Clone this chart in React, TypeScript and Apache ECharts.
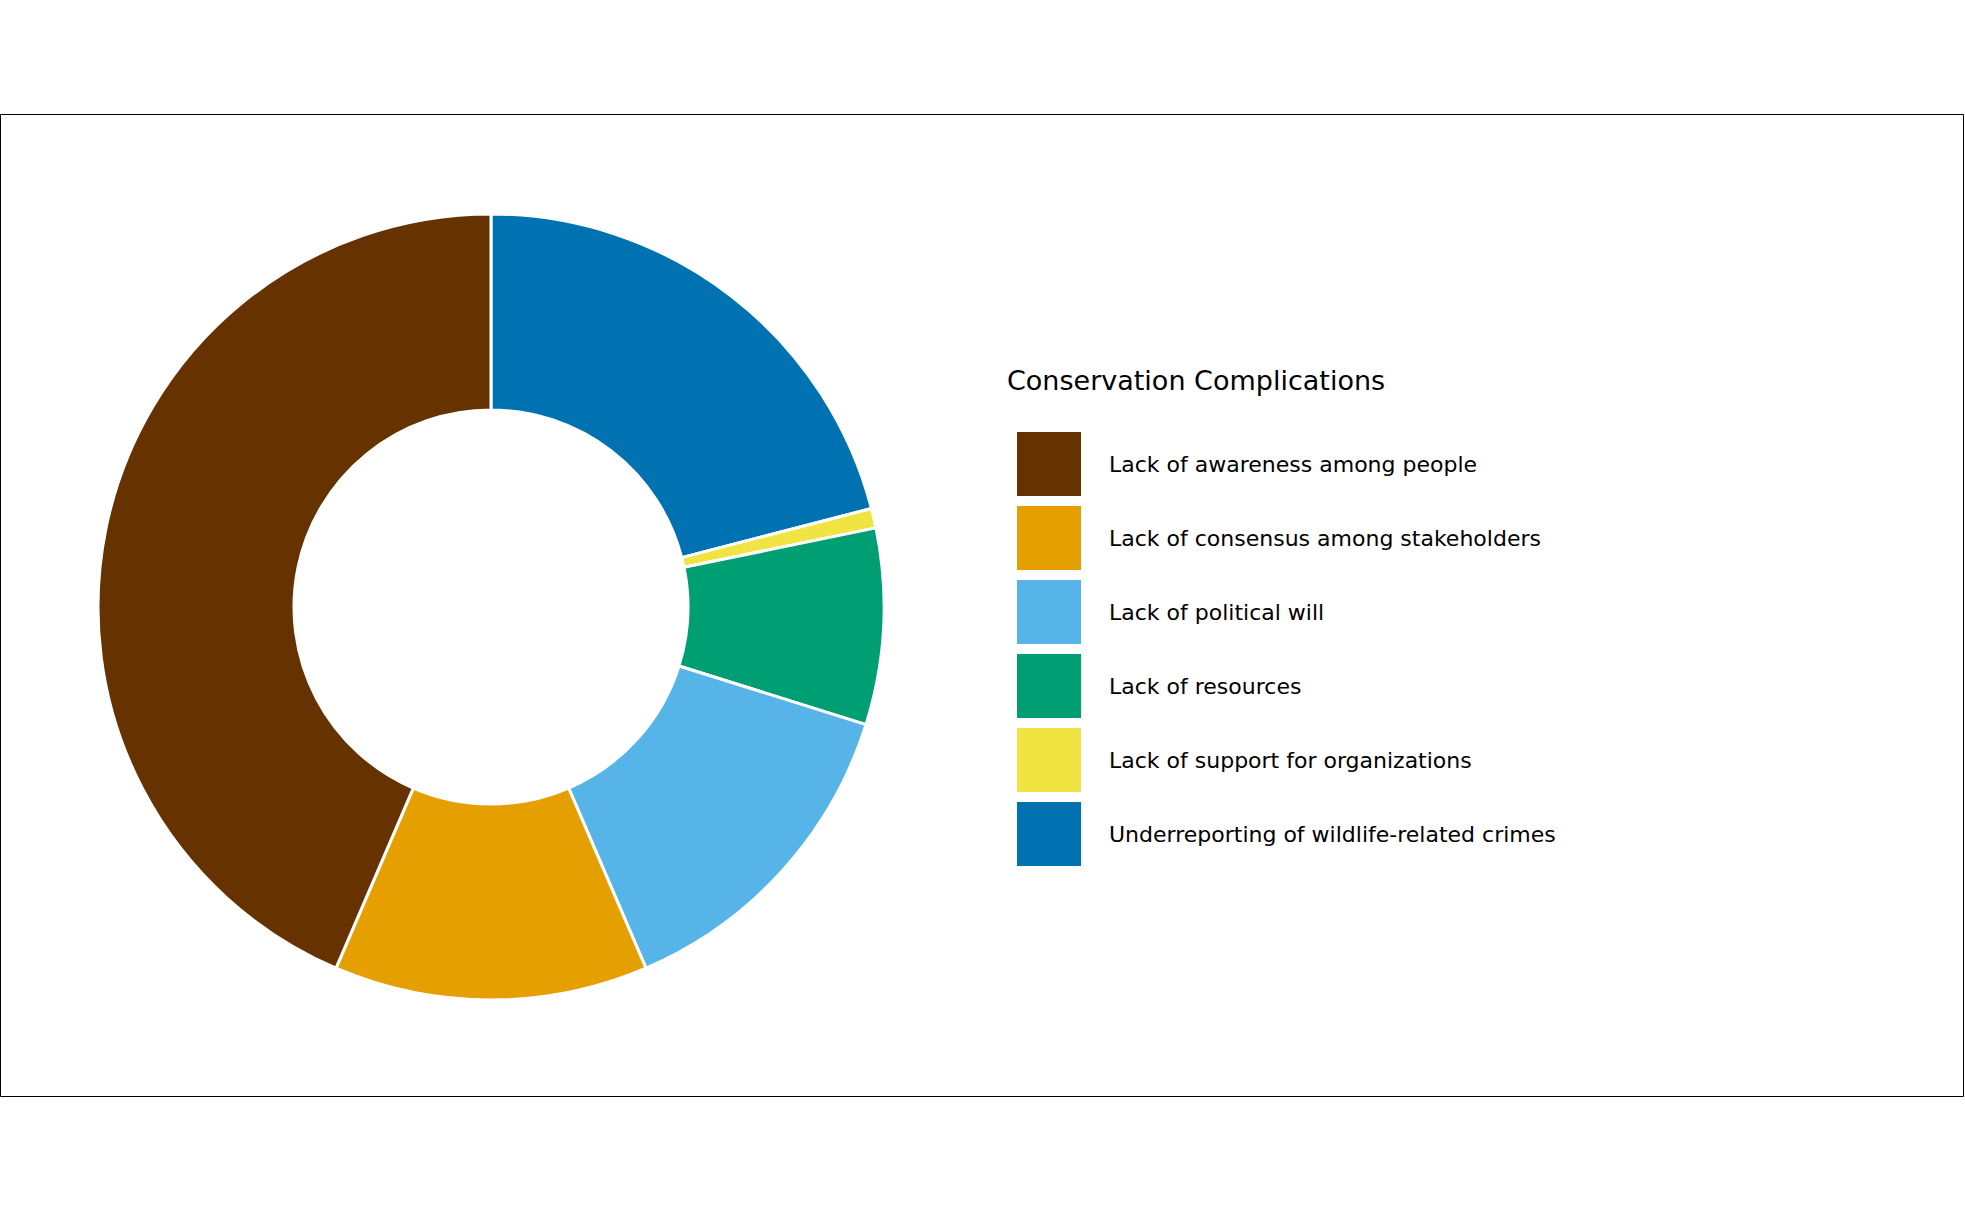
import React, { useEffect, useRef } from "react";
import * as echarts from "echarts";

const categories = [
  "Underreporting of wildlife-related crimes",
  "Lack of support for organizations",
  "Lack of resources",
  "Lack of political will",
  "Lack of consensus among stakeholders",
  "Lack of awareness among people",
];
const values = [26, 1, 10, 17, 16, 54];
const colors = ["#0072B2", "#F0E442", "#009E73", "#56B4E9", "#E69F00", "#663300"];
const legendOrder = [
  "Lack of awareness among people",
  "Lack of consensus among stakeholders",
  "Lack of political will",
  "Lack of resources",
  "Lack of support for organizations",
  "Underreporting of wildlife-related crimes",
];

export default function App() {
  const ref = useRef<HTMLDivElement>(null);
  useEffect(() => {
    document.body.style.margin = "0";
    const chart = echarts.init(ref.current!, null, { renderer: "svg" });
    chart.setOption({
      animation: false,
      backgroundColor: "#fff",
      title: {
        text: "Conservation Complications",
        left: 1002,
        top: 362,
        textStyle: { fontFamily: "DejaVu Sans", fontSize: 27, fontWeight: "normal", color: "#000" },
      },
      legend: {
        orient: "vertical",
        left: 1010,
        top: 425,
        itemWidth: 66,
        itemHeight: 66,
        itemGap: 6,
        icon: "rect",
        data: legendOrder,
        selectedMode: false,
        textStyle: { fontFamily: "DejaVu Sans", fontSize: 22, color: "#000", padding: [0, 0, 0, 22] },
      },
      graphic: [
        {
          type: "rect",
          shape: { x: 0.5, y: 114.5, width: 1963, height: 982 },
          style: { fill: "none", stroke: "#000", lineWidth: 1 },
        },
      ],
      series: [
        {
          type: "pie",
          center: [491, 607],
          radius: [197, 393],
          startAngle: 90,
          clockwise: true,
          label: { show: false },
          labelLine: { show: false },
          itemStyle: { borderColor: "#fff", borderWidth: 3 },
          data: categories.map((c, i) => ({ name: c, value: values[i], itemStyle: { color: colors[i] } })),
        },
      ],
    });
    return () => chart.dispose();
  }, []);
  return <div ref={ref} style={{ width: 1965, height: 1212 }} />;
}
